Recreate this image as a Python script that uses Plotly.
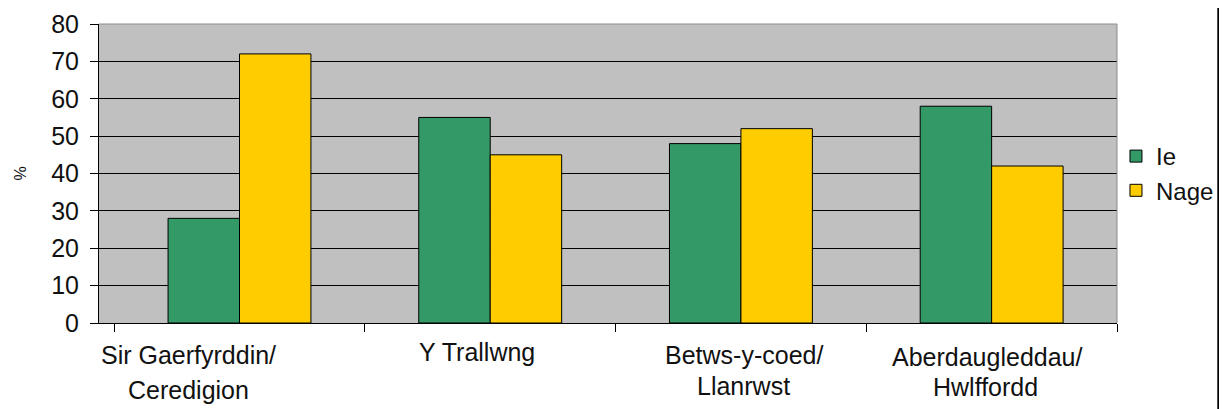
import plotly.graph_objects as go

categories = ["Sir Gaerfyrddin/<br>Ceredigion", "Y Trallwng", "Betws-y-coed/<br>Llanrwst", "Aberdaugleddau/<br>Hwlffordd"]
series_names = ["Ie", "Nage"]
ie_values = [28, 55, 48, 58]
nage_values = [72, 45, 52, 42]
y_ticks = [0, 10, 20, 30, 40, 50, 60, 70, 80]
y_title = "%"

FONT = "Liberation Sans"
FS = 25
TXT = "#111111"
GREEN = "#339966"
YELLOW = "#FFCC00"

fig = go.Figure()
fig.add_trace(go.Bar(x=categories, y=ie_values, name=series_names[0], legendgroup="a",
                     marker=dict(color=GREEN, line=dict(color="black", width=1))))
fig.add_trace(go.Bar(x=categories, y=nage_values, name=series_names[1], legendgroup="b",
                     marker=dict(color=YELLOW, line=dict(color="black", width=1))))

# per-label placement tweaks (pixels) to mimic the original layout
line1_shift = [-51, -13, 3, -5]
line2_shift = [-51, -13, 3, -6]
line1_y = [-32, -29, -32, -34]
line2_y = [-67, -62, -63, -64]
for i, cat in enumerate(categories):
    parts = cat.split("<br>")
    fig.add_annotation(x=cat, y=0, xref="x", yref="y", text=parts[0], showarrow=False,
                       xshift=line1_shift[i], yshift=line1_y[i], yanchor="middle",
                       font=dict(family=FONT, size=FS, color=TXT))
    if len(parts) > 1:
        fig.add_annotation(x=cat, y=0, xref="x", yref="y", text=parts[1], showarrow=False,
                           xshift=line2_shift[i], yshift=line2_y[i], yanchor="middle",
                           font=dict(family=FONT, size=FS, color=TXT))

# y-axis title
fig.add_annotation(x=-0.0776, y=0.5, xref="paper", yref="paper", text=y_title, showarrow=False,
                   textangle=-90, xanchor="center", yanchor="middle",
                   font=dict(family=FONT, size=16, color=TXT))

# top and right plot borders (grey) and outer right frame line
fig.add_shape(type="line", xref="paper", yref="paper", x0=0, x1=1, y0=1, y1=1,
              line=dict(color="#8c8c8c", width=1))
fig.add_shape(type="line", xref="paper", yref="paper", x0=1, x1=1, y0=0, y1=1,
              line=dict(color="#8c8c8c", width=1))
fig.add_shape(type="line", xref="paper", yref="paper", x0=1.0995, x1=1.0995, y0=-0.3, y1=1.1,
              line=dict(color="black", width=2))

# page body has an 8px margin, so the figure is drawn 8px right/down
fig.update_layout(
    width=1219, height=401,
    margin=dict(l=91, r=110, t=16, b=86, autoexpand=False),
    paper_bgcolor="white",
    plot_bgcolor="#C0C0C0",
    barmode="group",
    bargap=0.43,
    bargroupgap=0,
    font=dict(family=FONT, size=FS, color=TXT),
    showlegend=True,
    legend=dict(x=0.999, y=0.50, xanchor="left", yanchor="middle",
                font=dict(family=FONT, size=24, color=TXT),
                tracegroupgap=27, itemwidth=30, bgcolor="rgba(0,0,0,0)",
                traceorder="normal"),
    xaxis=dict(type="category", showticklabels=False, tickson="boundaries",
               ticks="outside", ticklen=8, tickcolor="black", tickwidth=1,
               showline=True, linecolor="black", linewidth=1, showgrid=False,
               zeroline=False, automargin=False),
    yaxis=dict(range=[0, 80], tickvals=y_ticks, ticks="outside", ticklen=8,
               tickcolor="black", tickwidth=1, showline=True, linecolor="black",
               linewidth=1, showgrid=True, gridcolor="black", gridwidth=1,
               zeroline=False, ticklabelstandoff=6, automargin=False,
               tickfont=dict(family=FONT, size=FS, color=TXT)),
)

fig.write_html("out.html")
